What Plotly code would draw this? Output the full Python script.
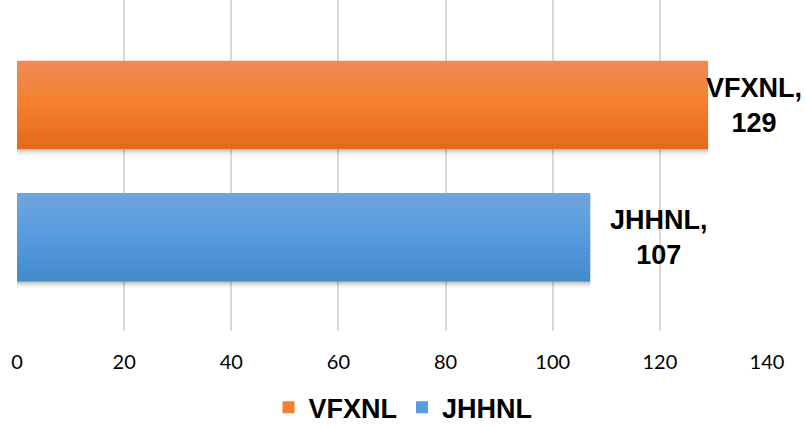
import plotly.graph_objects as go

# series shown top to bottom
SERIES = ["VFXNL", "JHHNL"]
VALUES = [129, 107]
X_TICKS = [0, 20, 40, 60, 80, 100, 120, 140]

# light (top) -> base (middle) -> dark (bottom), like the office-style fill
GRADIENTS = {
    "VFXNL": ["#ef8b56", "#f47f2d", "#e4681a"],
    "JHHNL": ["#6fa6dd", "#559bdf", "#428ac9"],
}
LABEL_SHIFT = {"VFXNL": 46, "JHHNL": 69}
BAR_WIDTH = 0.67
STRIPS = 18

TICK_FONT = "Lato, Liberation Sans, Arial, sans-serif"
BOLD = "Liberation Sans, Arial, sans-serif"


def _hex(c):
    return tuple(int(c[i:i + 2], 16) for i in (1, 3, 5))


def _mix(a, b, t):
    a, b = _hex(a), _hex(b)
    return "rgb({},{},{})".format(*(round(a[i] + (b[i] - a[i]) * t) for i in range(3)))


def _strip_color(stops, t):
    # t = 0 at bottom, 1 at top
    light, base, dark = stops
    if t < 0.5:
        return _mix(dark, base, t / 0.5)
    return _mix(base, light, (t - 0.5) / 0.5)


fig = go.Figure()
half = BAR_WIDTH / 2
px = 1 / 132.3
for name, value in zip(SERIES, VALUES):
    # soft shadow under the bar
    for i, alpha in enumerate([0.22, 0.14, 0.08, 0.04]):
        fig.add_trace(
            go.Bar(
                x=[value], y=[name], orientation="h",
                offset=-half - (i + 1) * 1.5 * px, width=1.5 * px,
                marker={"color": f"rgba(0,0,0,{alpha})", "line": {"width": 0}},
                showlegend=False, hoverinfo="skip",
            )
        )
    step = BAR_WIDTH / STRIPS
    for k in range(STRIPS):
        off = -half + k * step
        w = min(step * 1.6, half - off)
        fig.add_trace(
            go.Bar(
                x=[value], y=[name], orientation="h",
                offset=off, width=w,
                name=name, legendgroup=name,
                showlegend=(k == STRIPS // 2),
                marker={"color": _strip_color(GRADIENTS[name], (k + 0.5) / STRIPS),
                        "line": {"width": 0}},
                hoverinfo="x+name",
            )
        )
    fig.add_annotation(
        x=value,
        y=name,
        text=f"<b>{name},<br>{value}</b>",
        showarrow=False,
        xanchor="center",
        yanchor="middle",
        xshift=LABEL_SHIFT[name],
        font={"family": BOLD, "size": 27, "color": "#000000"},
        align="center",
    )

fig.update_layout(
    width=806,
    height=427,
    margin={"l": 17, "r": 39, "t": 0, "b": 96},
    paper_bgcolor="#ffffff",
    plot_bgcolor="#ffffff",
    barmode="overlay",
    showlegend=True,
    legend={
        "orientation": "h",
        "x": 0.5,
        "xanchor": "center",
        "xref": "container",
        "y": 0.045,
        "yanchor": "middle",
        "yref": "container",
        "font": {"family": BOLD, "size": 27, "color": "#000000", "weight": "bold"},
        "traceorder": "normal",
    },
    xaxis={
        "range": [0, 140],
        "tickvals": X_TICKS,
        "showgrid": True,
        "gridcolor": "#d9d9d9",
        "gridwidth": 1.5,
        "zeroline": False,
        "showline": False,
        "ticklabelstandoff": 17,
        "tickfont": {"family": TICK_FONT, "size": 20, "color": "#000000"},
    },
    yaxis={
        "categoryorder": "array",
        "categoryarray": list(reversed(SERIES)),
        "range": [-0.708, 1.794],
        "showticklabels": False,
        "showgrid": False,
        "zeroline": False,
        "showline": False,
    },
)

# drop the default 8px body margin so the chart sits flush in the window
fig.write_html(
    "out.html",
    config={"displayModeBar": False},
    post_script="document.body.style.margin='0';",
)
